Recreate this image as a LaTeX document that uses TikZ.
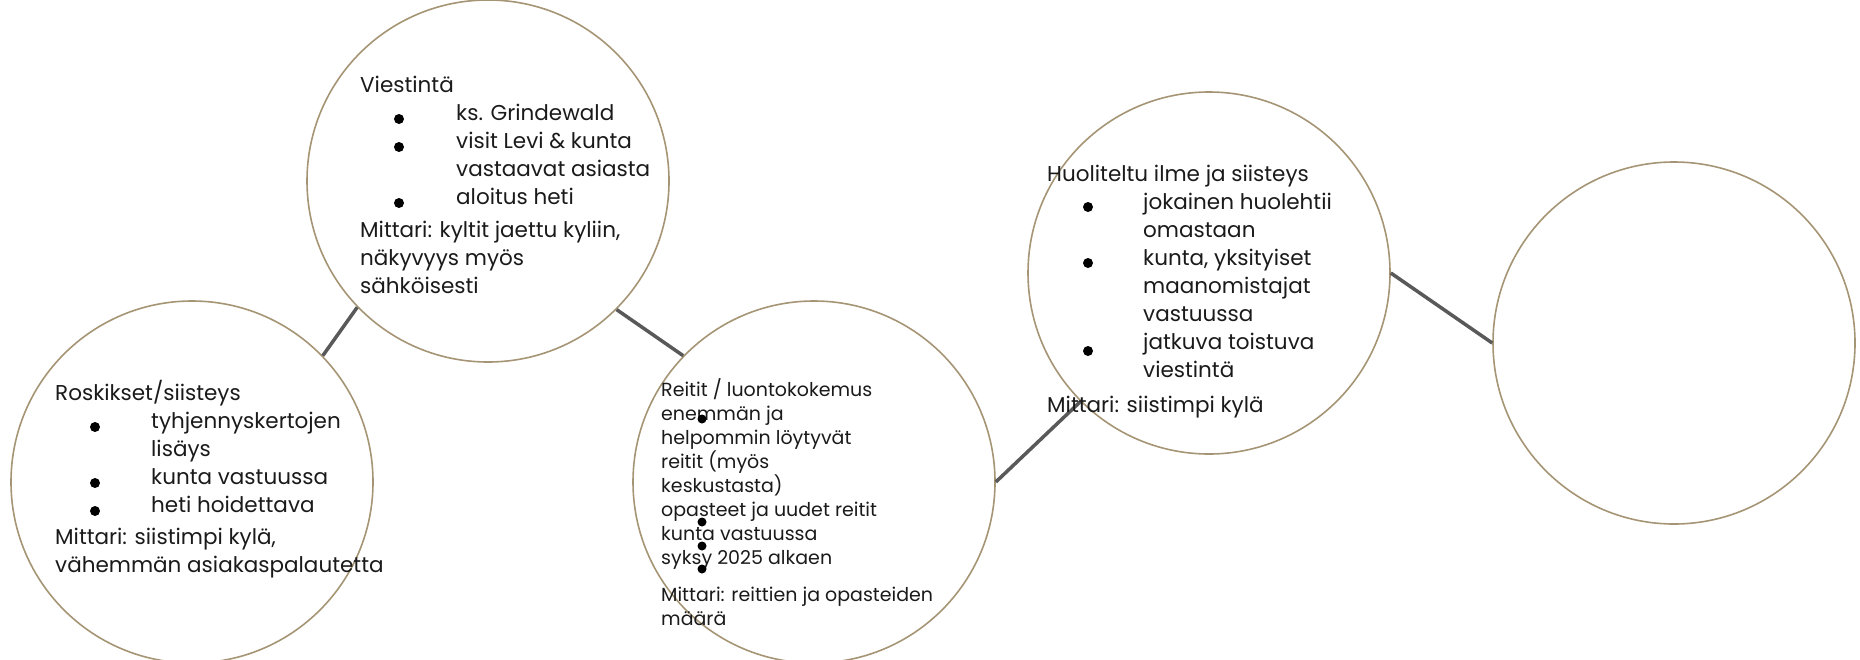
\documentclass[tikz,border=0pt]{standalone}
\usepackage{fontspec}
\setmainfont{Poppins}
\definecolor{ring}{HTML}{A59574}
\definecolor{link}{HTML}{595959}
\definecolor{ink}{HTML}{1A1A1A}
\tikzset{
  ring/.style={circle,draw=ring,line width=1.6pt,minimum size=362pt,inner sep=0pt},
  link/.style={draw=link,line width=3.5pt},
  bigtxt/.style={anchor=base west,align=left,inner sep=0pt,text=ink,font=\fontsize{21.5}{28}\selectfont},
  smalltxt/.style={anchor=base west,align=left,inner sep=0pt,text=ink,font=\fontsize{19}{24}\selectfont},
  dot/.style={fill=black}
}
\begin{document}
\begin{tikzpicture}[x=1pt,y=-1pt]
\useasboundingbox (0,0) rectangle (1860,659);
\node[ring] (c1) at (192,482) {};
\node[ring] (c2) at (488,181) {};
\node[ring] (c3) at (814,482) {};
\node[ring] (c4) at (1209,273) {};
\node[ring] (c5) at (1674,343) {};
\draw[link] (c1.44.5) -- (c2.224);
\draw[link] (c2.-45) -- (c3.136);
\draw[link] (c3.0) -- (c4.225);
\draw[link] (c4.0) -- (c5.180);
% circle 1
\node[bigtxt] (t1) at (55,572) {Roskikset/siisteys\\
\hspace*{96pt}tyhjennyskertojen\\
\hspace*{96pt}lisäys\\
\hspace*{96pt}kunta vastuussa\\
\hspace*{96pt}heti hoidettava\\[4pt]
Mittari: siistimpi kylä,\\
vähemmän asiakaspalautetta};
\fill[dot] (95,427) circle (5) (95,483) circle (5) (95,511) circle (5);
% circle 2
\node[bigtxt] (t2) at (360,293) {Viestintä\\
\hspace*{96pt}ks. Grindewald\\
\hspace*{96pt}visit Levi \& kunta\\
\hspace*{96pt}vastaavat asiasta\\
\hspace*{96pt}aloitus heti\\[5pt]
Mittari: kyltit jaettu kyliin,\\
näkyvyys myös\\
sähköisesti};
\fill[dot] (399,119) circle (5) (399,147) circle (5) (399,203) circle (5);
% circle 3
\node[smalltxt] (t3) at (661,625) {Reitit / luontokokemus\\
enemmän ja\\
helpommin löytyvät\\
reitit (myös\\
keskustasta)\\
opasteet ja uudet reitit\\
kunta vastuussa\\
syksy 2025 alkaen\\[13pt]
Mittari: reittien ja opasteiden\\
määrä};
\fill[dot] (702,419) circle (4.5) (702,522) circle (4.5) (702,546) circle (4.5) (702,569) circle (4.5);
% circle 4
\node[bigtxt] (t4) at (1047,412) {Huoliteltu ilme ja siisteys\\
\hspace*{96pt}jokainen huolehtii\\
\hspace*{96pt}omastaan\\
\hspace*{96pt}kunta, yksityiset\\
\hspace*{96pt}maanomistajat\\
\hspace*{96pt}vastuussa\\
\hspace*{96pt}jatkuva toistuva\\
\hspace*{96pt}viestintä\\[7pt]
Mittari: siistimpi kylä};
\fill[dot] (1088,207) circle (5) (1088,263) circle (5) (1088,351) circle (5);
\end{tikzpicture}
\end{document}
